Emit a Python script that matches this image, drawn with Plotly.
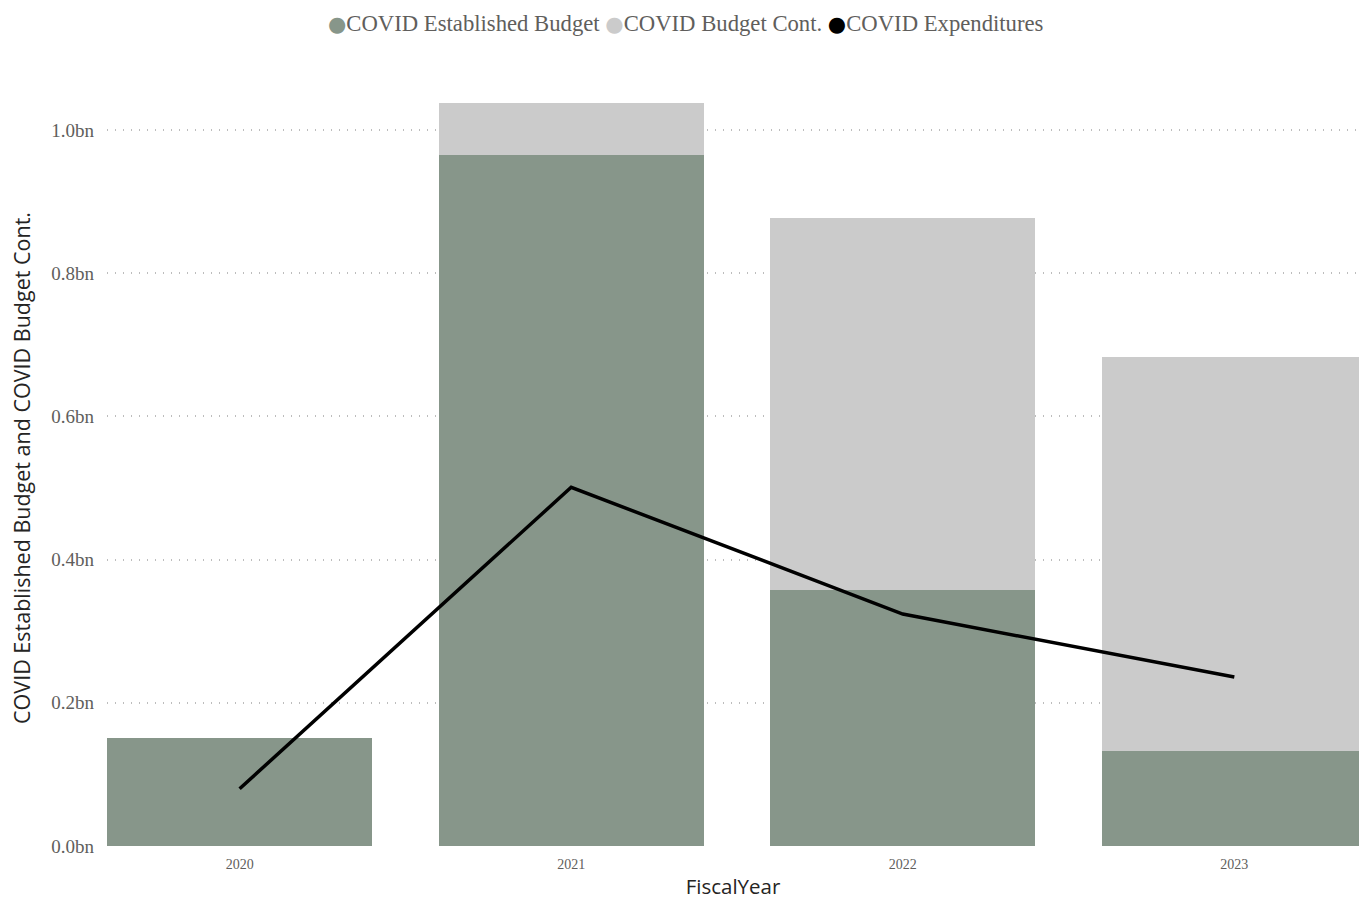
import plotly.graph_objects as go

years = ["2020", "2021", "2022", "2023"]
established = [0.151, 0.965, 0.357, 0.133]
budget_cont = [0.0, 0.073, 0.520, 0.550]
expenditures = [0.080, 0.501, 0.324, 0.236]
y_ticks = [0, 0.2, 0.4, 0.6, 0.8, 1.0]
y_tick_text = ["0.0bn", "0.2bn", "0.4bn", "0.6bn", "0.8bn", "1.0bn"]

series_names = ["COVID Established Budget", "COVID Budget Cont.", "COVID Expenditures"]
GREEN = "#87968A"
GRAY = "#CBCBCB"
BLACK = "#000000"
series_colors = [GREEN, GRAY, BLACK]
SERIF = "Liberation Serif, Times New Roman, serif"
SANS = "Open Sans, DejaVu Sans, sans-serif"

fig = go.Figure()
fig.add_trace(go.Bar(x=years, y=established, name=series_names[0],
                     marker=dict(color=GREEN, line=dict(width=0))))
fig.add_trace(go.Bar(x=years, y=budget_cont, name=series_names[1],
                     marker=dict(color=GRAY, line=dict(width=0))))
fig.add_trace(go.Scatter(x=years, y=expenditures, name=series_names[2], mode="lines",
                         line=dict(color=BLACK, width=3.5)))

legend_text = " ".join(
    f"<span style='color:{c};font-family:DejaVu Sans;font-size:21px'>●</span>{n}"
    for n, c in zip(series_names, series_colors)
)

fig.update_layout(
    width=1359, height=900,
    barmode="stack", bargap=0.2,
    plot_bgcolor="white", paper_bgcolor="white",
    margin=dict(l=107, r=0, t=90, b=54),
    showlegend=False,
    font=dict(family=SERIF, color="#605E5C"),
    annotations=[dict(text=legend_text, xref="paper", yref="paper",
                      x=(685.5 - 107) / 1252, xanchor="center",
                      y=1 + (90 - 23) / 756, yanchor="middle", showarrow=False,
                      font=dict(family=SERIF, size=22.7, color="#605E5C"))],
)
fig.update_xaxes(type="category", range=[-0.4, 3.376], showgrid=False, zeroline=False,
                 showline=False, ticks="", ticklabelstandoff=8, automargin=False,
                 tickfont=dict(family=SERIF, size=14, color="#605E5C"),
                 title=dict(text="FiscalYear", font=dict(family=SANS, size=20.5, color="#252423"),
                            standoff=17))
fig.update_yaxes(range=[0, 1.0559], tickvals=y_ticks, ticktext=y_tick_text,
                 showgrid=True, gridcolor="#BDBDBD", griddash="1px,7px", gridwidth=1.5,
                 zeroline=False, showline=False, ticks="", ticklabelstandoff=12,
                 tickfont=dict(family=SERIF, size=19, color="#605E5C"),
                 title=dict(text="COVID Established Budget and COVID Budget Cont.",
                            font=dict(family=SANS, size=21.5, color="#252423"), standoff=14))

fig.write_html("out.html")
